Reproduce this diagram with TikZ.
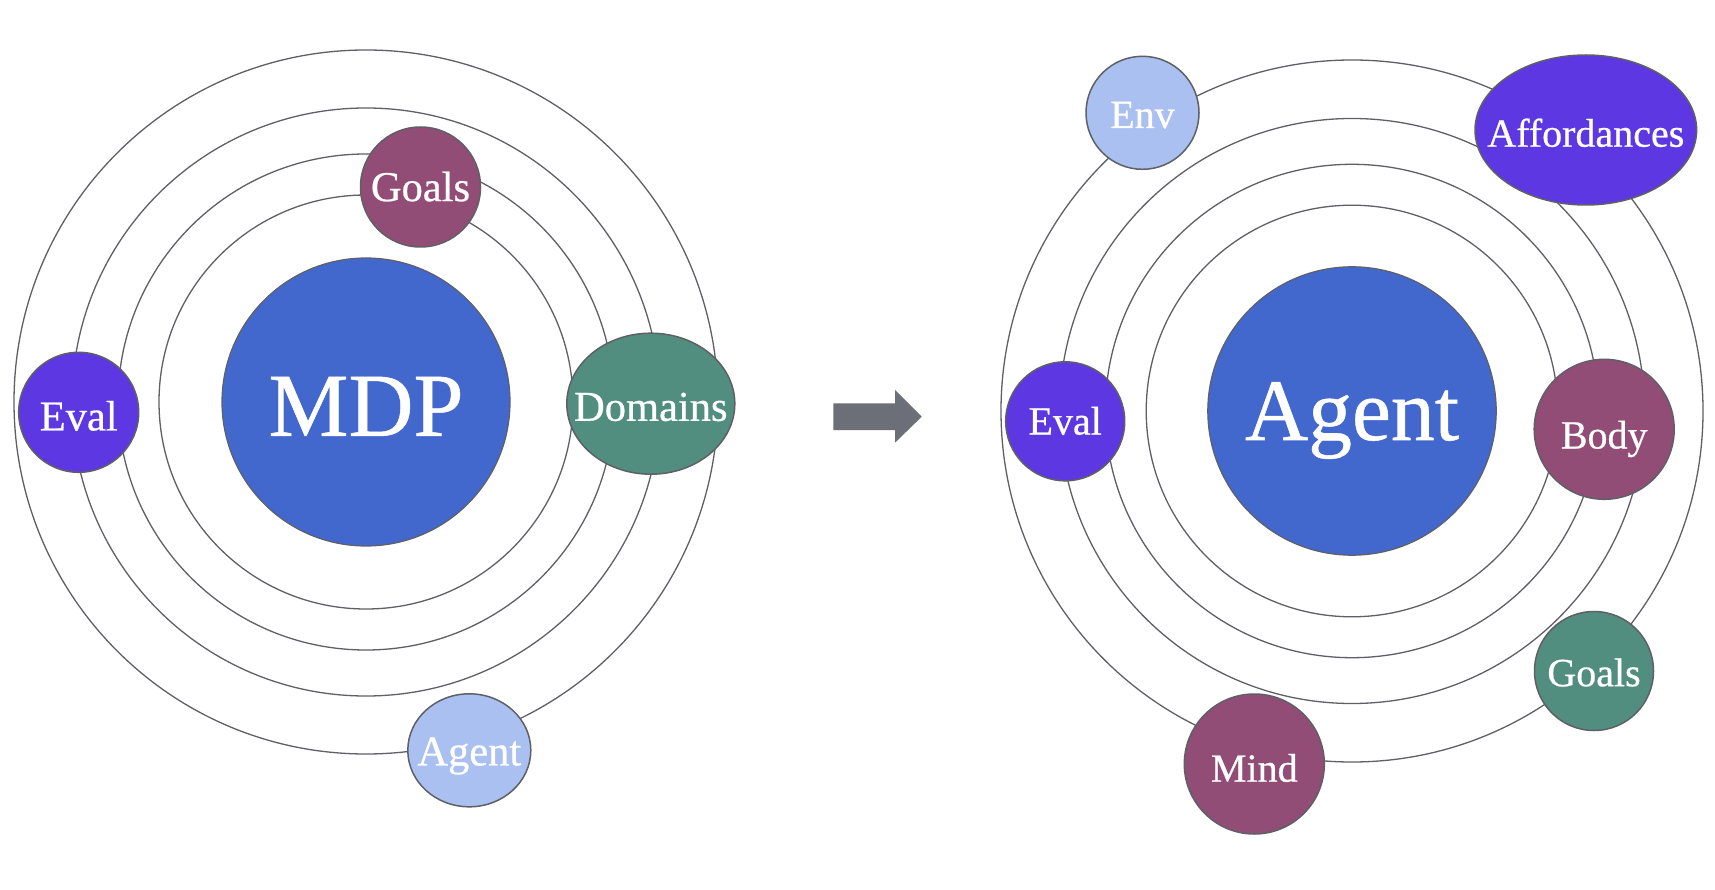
\documentclass[tikz,border=0pt]{standalone}
\usepackage{fontspec}
\setmainfont{Liberation Serif}
\newfontfamily\lblfont{Liberation Serif}[FakeBold=0.6]
\usetikzlibrary{shapes.geometric}
\definecolor{bigblue}{RGB}{66,104,206}
\definecolor{plum}{RGB}{145,77,117}
\definecolor{violet}{RGB}{92,55,226}
\definecolor{teal}{RGB}{82,142,128}
\definecolor{lightblue}{RGB}{170,192,240}
\definecolor{ringgray}{RGB}{95,95,102}
\definecolor{arrowgray}{RGB}{108,111,120}
\tikzset{
  ring/.style={draw=ringgray, line width=1.3pt},
  sat/.style={draw=ringgray, line width=1.5pt, inner sep=0pt},
  satc/.style={sat, circle},
  sate/.style={sat, ellipse},
  hub/.style={draw=ringgray, line width=1.2pt, circle, fill=bigblue, inner sep=0pt},
  ltxt/.style={text=white, inner sep=0pt, anchor=base, font=\lblfont\fontsize{42.5}{50}\selectfont, yshift=-14.1pt},
  rtxt/.style={text=white, inner sep=0pt, anchor=base, font=\lblfont\fontsize{40}{48}\selectfont, yshift=-13.2pt},
  bigtxt/.style={text=white, inner sep=0pt, anchor=base, font=\lblfont\fontsize{#1}{#1}\selectfont, yshift=-0.331*#1 pt},
}
\begin{document}
\begin{tikzpicture}[x=1pt,y=-1pt]
\useasboundingbox (0,0) rectangle (1715,890);
\fill[white] (0,0) rectangle (1715,890);
% ---------- left system ----------
\coordinate (L) at (366,402);
\draw[ring] (L) circle[radius=352];
\draw[ring] (L) circle[radius=294];
\draw[ring] (L) circle[radius=248];
\draw[ring] (L) circle[radius=207];
\node[hub, minimum size=288pt] (mdp) at (L) {};
\node[bigtxt=90, yshift=-4pt] (mdpt) at (mdp.center) {MDP};
\node[satc, fill=plum, minimum size=120pt] (goalsL) at (420.5,187) {};
\node[ltxt] (goalsLt) at (goalsL.center) {Goals};
\node[satc, fill=violet, minimum size=120pt] (evalL) at (78.7,412.3) {};
\node[ltxt, yshift=-4pt] (evalLt) at (evalL.center) {Eval};
\node[sate, fill=teal, minimum width=168pt, minimum height=141pt] (dom) at (650.8,403.7) {};
\node[ltxt, yshift=-3pt] (domt) at (dom.center) {Domains};
\node[sate, fill=lightblue, minimum width=123pt, minimum height=113pt] (agentL) at (469.3,750.3) {};
\node[ltxt, yshift=-1pt] (agentLt) at (agentL.center) {Agent};
% ---------- arrow ----------
\fill[arrowgray] (833.3,403.3) -- (895,403.3) -- (895,390) -- (921.7,416.7)
  -- (895,442.7) -- (895,430) -- (833.3,430) -- cycle;
% ---------- right system ----------
\coordinate (R) at (1352,411);
\draw[ring] (R) circle[radius=351];
\draw[ring] (R) circle[radius=292.5];
\draw[ring] (R) circle[radius=246.7];
\draw[ring] (R) circle[radius=205.8];
\node[hub, minimum size=288.4pt] (agentR) at (R) {};
\node[bigtxt=87.6] (agentRt) at (agentR.center) {Agent};
\node[satc, fill=lightblue, minimum size=113pt] (env) at (1142.5,112.8) {};
\node[rtxt, yshift=-2pt] (envt) at (env.center) {Env};
\node[sate, fill=violet, minimum width=221.6pt, minimum height=150pt] (aff) at (1585.8,130) {};
\node[rtxt, yshift=-3.5pt] (afft) at (aff.center) {Affordances};
\node[satc, fill=violet, minimum size=119pt] (evalR) at (1065.2,421.3) {};
\node[rtxt] (evalRt) at (evalR.center) {Eval};
\node[satc, fill=plum, minimum size=140pt] (body) at (1604.2,429.3) {};
\node[rtxt, yshift=-6pt] (bodyt) at (body.center) {Body};
\node[satc, fill=teal, minimum size=119pt] (goalsR) at (1594,671) {};
\node[rtxt, yshift=-2pt] (goalsRt) at (goalsR.center) {Goals};
\node[satc, fill=plum, minimum size=140pt] (mind) at (1254.3,764) {};
\node[rtxt, yshift=-4.5pt] (mindt) at (mind.center) {Mind};
\end{tikzpicture}
\end{document}
